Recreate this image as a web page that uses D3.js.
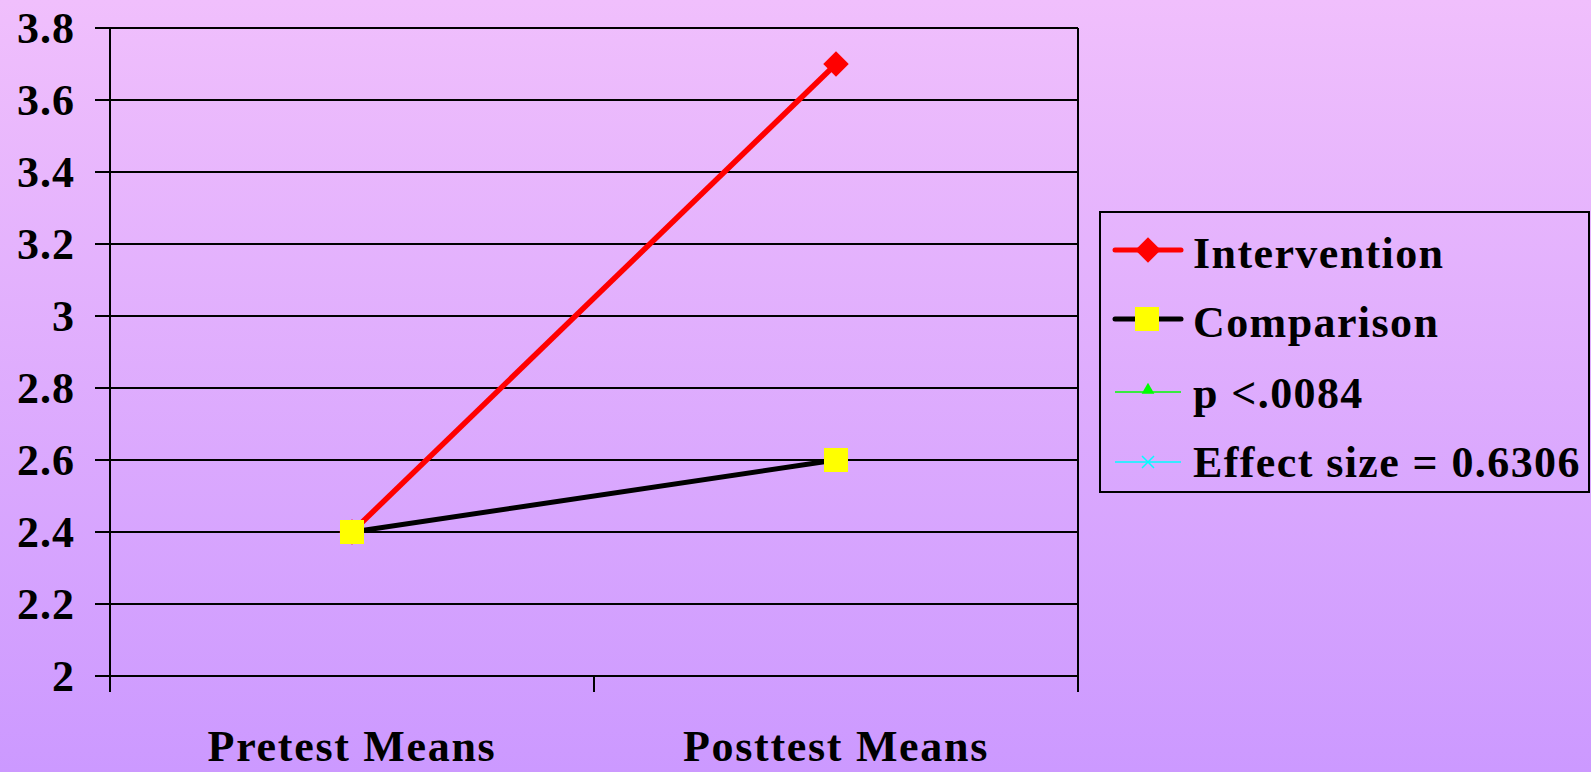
<!DOCTYPE html>
<html>
<head>
<meta charset="utf-8">
<script src="https://cdn.jsdelivr.net/npm/d3@7"></script>
<style>
html,body{margin:0;padding:0;overflow:hidden;}
svg{display:block;}
</style>
</head>
<body>
<script>
const categories = ["Pretest Means", "Posttest Means"];
const interventionValues = [2.4, 3.7];
const comparisonValues = [2.4, 2.6];
const yTicks = [2, 2.2, 2.4, 2.6, 2.8, 3, 3.2, 3.4, 3.6, 3.8];
const legendLabels = ["Intervention", "Comparison", "p <.0084", "Effect size = 0.6306"];

const W = 1591, H = 772;
const svg = d3.select("body").append("svg").attr("width", W).attr("height", H);

const defs = svg.append("defs");
const grad = defs.append("linearGradient").attr("id", "bg").attr("x1", 0).attr("y1", 0).attr("x2", 0).attr("y2", 1);
grad.append("stop").attr("offset", "0%").attr("stop-color", "#F0BFFC");
grad.append("stop").attr("offset", "100%").attr("stop-color", "#CC99FF");
svg.append("rect").attr("width", W).attr("height", H).attr("fill", "url(#bg)");

const font = "Liberation Serif, DejaVu Serif, Noto Serif, serif";

const x = d3.scaleBand().domain(categories).range([110, 1078]).padding(0);
const y = d3.scaleLinear().domain([2, 3.8]).range([676, 28]);

// gridlines + y ticks
const gy = svg.append("g");
gy.selectAll("line.grid").data(yTicks).enter().append("line")
  .attr("x1", 95).attr("x2", 1078)
  .attr("y1", d => y(d)).attr("y2", d => y(d))
  .attr("stroke", "#000").attr("stroke-width", 2);
gy.selectAll("text").data(yTicks).enter().append("text")
  .attr("x", 75).attr("y", d => y(d)).attr("dy", "0.35em")
  .attr("text-anchor", "end")
  .style("font-family", font).style("font-weight", "bold").style("font-size", "44px")
  .style("letter-spacing", "1px")
  .text(d => d3.format("")(d));

// vertical axis lines
svg.append("line").attr("x1", 110).attr("x2", 110).attr("y1", y(3.8)).attr("y2", 692).attr("stroke", "#000").attr("stroke-width", 2);
svg.append("line").attr("x1", 1078).attr("x2", 1078).attr("y1", y(3.8)).attr("y2", 692).attr("stroke", "#000").attr("stroke-width", 2);

// x ticks at band boundaries
const bounds = categories.map(c => x(c)).concat([x(categories[categories.length-1]) + x.bandwidth()]);
svg.selectAll("line.xt").data(bounds.slice(1, -1)).enter().append("line")
  .attr("x1", d => d).attr("x2", d => d).attr("y1", y(2)).attr("y2", 692)
  .attr("stroke", "#000").attr("stroke-width", 2);

// x labels
svg.selectAll("text.xl").data(categories).enter().append("text")
  .attr("x", d => x(d) + x.bandwidth()/2).attr("y", 761)
  .attr("text-anchor", "middle")
  .style("font-family", font).style("font-weight", "bold").style("font-size", "44px")
  .style("letter-spacing", "1.7px")
  .text(d => d);

const cx = d => x(d) + x.bandwidth()/2;
const line = d3.line().x((d, i) => cx(categories[i])).y(d => y(d));

// Intervention
svg.append("path").datum(interventionValues).attr("d", line)
  .attr("fill", "none").attr("stroke", "#FF0000").attr("stroke-width", 5.5);
svg.selectAll("rect.dia").data(interventionValues).enter().append("rect")
  .attr("x", -9).attr("y", -9).attr("width", 18).attr("height", 18)
  .attr("fill", "#FF0000")
  .attr("transform", (d, i) => `translate(${cx(categories[i])},${y(d)}) rotate(45)`);

// Comparison
svg.append("path").datum(comparisonValues).attr("d", line)
  .attr("fill", "none").attr("stroke", "#000").attr("stroke-width", 5);
svg.selectAll("rect.sq").data(comparisonValues).enter().append("rect")
  .attr("x", (d, i) => cx(categories[i]) - 12).attr("y", d => y(d) - 12)
  .attr("width", 24).attr("height", 24).attr("fill", "#FFFF00");

// Legend
const lg = svg.append("g");
lg.append("rect").attr("x", 1100).attr("y", 212).attr("width", 489).attr("height", 280)
  .attr("fill", "none").attr("stroke", "#000").attr("stroke-width", 2);
const rowBase = [268, 337, 408, 477];
lg.selectAll("text").data(legendLabels).enter().append("text")
  .attr("x", 1193).attr("y", (d, i) => rowBase[i])
  .style("font-family", font).style("font-weight", "bold").style("font-size", "44px")
  .style("letter-spacing", "1.4px")
  .text(d => d);
const symY = [250, 319, 392, 462];
lg.append("line").attr("x1", 1115).attr("x2", 1181).attr("y1", symY[0]).attr("y2", symY[0])
  .attr("stroke", "#FF0000").attr("stroke-width", 5).attr("stroke-linecap", "round");
lg.append("rect").attr("x", -9).attr("y", -9).attr("width", 18).attr("height", 18).attr("fill", "#FF0000")
  .attr("transform", `translate(1148,${symY[0]}) rotate(45)`);
lg.append("line").attr("x1", 1115).attr("x2", 1181).attr("y1", symY[1]).attr("y2", symY[1])
  .attr("stroke", "#000").attr("stroke-width", 5).attr("stroke-linecap", "round");
lg.append("rect").attr("x", 1135).attr("y", symY[1] - 12).attr("width", 24).attr("height", 24).attr("fill", "#FFFF00");
lg.append("line").attr("x1", 1115).attr("x2", 1181).attr("y1", symY[2]).attr("y2", symY[2])
  .attr("stroke", "#00FF00").attr("stroke-width", 1.5);
lg.append("path").attr("d", d3.symbol(d3.symbolTriangle, 70)()).attr("fill", "#00FF00")
  .attr("transform", `translate(1148,${symY[2] - 2})`);
lg.append("line").attr("x1", 1115).attr("x2", 1181).attr("y1", symY[3]).attr("y2", symY[3])
  .attr("stroke", "#00FFFF").attr("stroke-width", 1.5);
lg.append("path").attr("d", "M-6,-6L6,6M-6,6L6,-6").attr("stroke", "#00FFFF").attr("stroke-width", 1.5)
  .attr("transform", `translate(1148,${symY[3]})`);
</script>
</body>
</html>
